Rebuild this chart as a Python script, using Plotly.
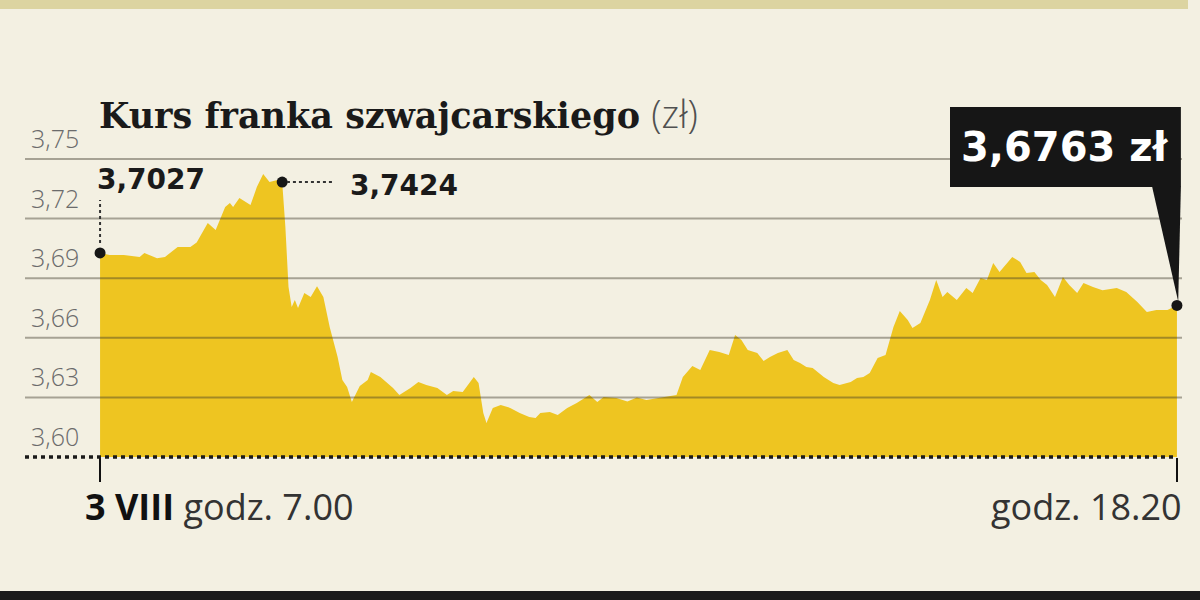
import plotly.graph_objects as go

# ---- data (minutes after 7:00 on 3 VIII, CHF/PLN rate) ----
minutes = [0, 6, 15, 25, 28, 36, 41, 49, 57, 61, 68, 73, 79, 82, 84, 88, 95, 99, 103, 107,
           112, 115, 117, 119, 121, 123, 125, 129, 133, 137, 141, 145, 150, 153, 156, 159,
           164, 169, 171, 177, 185, 189, 196, 201, 206, 213, 219, 223, 229, 236, 239, 242,
           244, 248, 253, 259, 265, 271, 275, 278, 284, 289, 295, 301, 309, 314, 318, 326,
           333, 339, 345, 352, 360, 364, 368, 374, 379, 385, 391, 397, 401, 405, 409, 415,
           419, 423, 428, 434, 438, 442, 446, 450, 457, 463, 467, 474, 478, 482, 486, 491,
           496, 501, 505, 510, 513, 518, 524, 528, 532, 535, 541, 547, 551, 556, 560, 564,
           568, 573, 576, 581, 585, 590, 594, 598, 603, 608, 612, 617, 621, 627, 633, 642,
           648, 655, 661, 667, 674, 680]
values = [3.7027, 3.7017, 3.7017, 3.7007, 3.7027, 3.7000, 3.7007, 3.7057, 3.7057, 3.7080,
          3.7178, 3.7143, 3.7258, 3.7278, 3.7258, 3.7304, 3.7268, 3.7359, 3.7424, 3.7384,
          3.7394, 3.7384, 3.7160, 3.6856, 3.6755, 3.6790, 3.6750, 3.6825, 3.6805, 3.6860,
          3.6805, 3.6654, 3.6503, 3.6388, 3.6352, 3.6277, 3.6357, 3.6388, 3.6428, 3.6403,
          3.6347, 3.6312, 3.6347, 3.6378, 3.6362, 3.6347, 3.6312, 3.6332, 3.6327, 3.6403,
          3.6372, 3.6221, 3.6171, 3.6247, 3.6262, 3.6247, 3.6221, 3.6201, 3.6196, 3.6221,
          3.6227, 3.6211, 3.6247, 3.6272, 3.6312, 3.6277, 3.6302, 3.6297, 3.6280, 3.6300,
          3.6287, 3.6297, 3.6307, 3.6312, 3.6403, 3.6458, 3.6438, 3.6539, 3.6528, 3.6513,
          3.6614, 3.6589, 3.6539, 3.6523, 3.6483, 3.6503, 3.6523, 3.6539, 3.6488, 3.6473,
          3.6453, 3.6448, 3.6403, 3.6372, 3.6362, 3.6378, 3.6398, 3.6403, 3.6423, 3.6498,
          3.6513, 3.6654, 3.6735, 3.6690, 3.6649, 3.6674, 3.6790, 3.6891, 3.6805, 3.6830,
          3.6790, 3.6851, 3.6825, 3.6901, 3.6891, 3.6977, 3.6931, 3.6977, 3.7007, 3.6982,
          3.6926, 3.6931, 3.6891, 3.6866, 3.6805, 3.6906, 3.6866, 3.6825, 3.6876, 3.6856,
          3.6840, 3.6851, 3.6830, 3.6780, 3.6730, 3.6740, 3.6740, 3.6763]
ytick_values = [3.60, 3.63, 3.66, 3.69, 3.72, 3.75]
title_text = "Kurs franka szwajcarskiego"
unit_text = "(zł)"
start_day = "3 VIII"
start_time = "godz. 7.00"
end_time = "godz. 18.20"
currency = "zł"
start_idx = 0
max_mark_idx = minutes.index(115)
end_idx = len(minutes) - 1

# ---- layout geometry ----
WIDTH, HEIGHT = 1200, 600
ML, MR, MT, MB = 25, 18, 101, 143
PW = WIDTH - ML - MR
PH = HEIGHT - MT - MB
X_RANGE = [-47.4, 683.2]
Y_RANGE = [3.60, 3.7792]

BG = "#F3F0E2"
YELLOW = "#EEC521"
GRID = "rgba(60,55,40,0.42)"
INK = "#161616"


def fmt(v):
    return f"{v:.4f}".replace(".", ",")


def px_x(px):
    return (px - ML) / PW


def px_y(py):
    return (HEIGHT - MB - py) / PH


def m_paper(m):
    return (m - X_RANGE[0]) / (X_RANGE[1] - X_RANGE[0])


fig = go.Figure()
fig.add_trace(go.Scatter(x=minutes, y=values, mode="lines", fill="tozeroy",
                         fillcolor=YELLOW, line=dict(width=0, color=YELLOW),
                         hoverinfo="skip", showlegend=False))
marks = [start_idx, max_mark_idx, end_idx]
fig.add_trace(go.Scatter(x=[minutes[i] for i in marks], y=[values[i] for i in marks],
                         mode="markers", marker=dict(size=11, color=INK),
                         cliponaxis=False, hoverinfo="skip", showlegend=False))

shapes = []
# top and bottom bands
shapes.append(dict(type="rect", xref="paper", yref="paper", x0=px_x(0), x1=px_x(1188),
                   y0=px_y(9), y1=px_y(0), fillcolor="#DCD4A1", line=dict(width=0), layer="below"))
shapes.append(dict(type="rect", xref="paper", yref="paper", x0=px_x(0), x1=px_x(1200),
                   y0=px_y(600), y1=px_y(591), fillcolor="#1B1B1B", line=dict(width=0), layer="below"))
# gridlines above the area
for v in ytick_values[1:]:
    shapes.append(dict(type="line", xref="paper", yref="y", x0=0, x1=1, y0=v, y1=v,
                       line=dict(color=GRID, width=2), layer="above"))
# dotted baseline
shapes.append(dict(type="line", xref="paper", yref="paper", x0=0, x1=m_paper(minutes[end_idx]),
                   y0=0, y1=0, line=dict(color="#1a1a1a", width=3.5, dash="4px,4px"), layer="above"))
# dotted connector from start point up to its label
shapes.append(dict(type="line", xref="x", yref="y", x0=minutes[start_idx], x1=minutes[start_idx],
                   y0=values[start_idx] + 0.0050, y1=3.7294,
                   line=dict(color="#333", width=2, dash="dot"), layer="above"))
# dotted connector from max mark to its label
shapes.append(dict(type="line", xref="x", yref="y", x0=minutes[max_mark_idx] + 3, x1=146.5,
                   y0=values[max_mark_idx], y1=values[max_mark_idx],
                   line=dict(color="#333", width=2, dash="dot"), layer="above"))
# callout box + pointer
box_bottom, box_top = 3.7359, 3.7762
box_left, box_right = 536.7, 682.5
shapes.append(dict(type="rect", xref="x", yref="y", x0=box_left, x1=box_right,
                   y0=box_bottom, y1=box_top, fillcolor=INK, line=dict(width=0), layer="above"))
shapes.append(dict(type="path", xref="x", yref="y",
                   path=f"M 664.3,{box_bottom + 0.0003} L {box_right},{box_bottom + 0.0003} "
                        f"L {minutes[end_idx] + 0.8},{values[end_idx] + 0.002} Z",
                   fillcolor=INK, line=dict(width=0), layer="above"))

annotations = []
# title
annotations.append(dict(
    xref="x", yref="y", x=0, y=3.7733, xanchor="left", yanchor="middle", xshift=-3,
    showarrow=False,
    text=(f"<b>{title_text}</b> <span style='font-family:Open Sans;font-weight:300;"
          f"font-size:38px;color:#505050'>{unit_text}</span>"),
    font=dict(family="DejaVu Serif", size=35, color="#1a1a1a")))
# y tick labels
for v in ytick_values:
    annotations.append(dict(xref="paper", yref="y", x=0, y=v, xanchor="left", yanchor="middle",
                            xshift=4, yshift=21, showarrow=False,
                            text=f"{v:.2f}".replace(".", ","),
                            font=dict(family="Open Sans", size=25, color="#6b6b6b", weight=300)))
# value labels
annotations.append(dict(xref="x", yref="y", x=minutes[start_idx], y=3.7395, xanchor="left",
                        yanchor="middle", xshift=-5, showarrow=False, text=fmt(values[start_idx]),
                        font=dict(family="DejaVu Sans", size=28, color="#1a1a1a", weight="bold")))
annotations.append(dict(xref="x", yref="y", x=156.6, y=3.7369, xanchor="left",
                        yanchor="middle", showarrow=False, text=fmt(max(values)),
                        font=dict(family="DejaVu Sans", size=28, color="#1a1a1a", weight="bold")))
# callout text
annotations.append(dict(xref="x", yref="y", x=(box_left + box_right) / 2,
                        y=(box_bottom + box_top) / 2, xanchor="center", yanchor="middle",
                        showarrow=False, text=f"{fmt(values[end_idx])} {currency}",
                        font=dict(family="DejaVu Sans", size=40, color="#FFFFFF", weight="bold")))
# x labels
annotations.append(dict(xref="x", yref="paper", x=minutes[start_idx], y=0, xanchor="left",
                        yanchor="middle", xshift=-17, yshift=-49, showarrow=False,
                        text=f"<span style='color:#111'><b>{start_day}</b></span> {start_time}",
                        font=dict(family="Open Sans", size=36, color="#333333")))
annotations.append(dict(xref="x", yref="paper", x=minutes[end_idx], y=0, xanchor="right",
                        yanchor="middle", xshift=7, yshift=-49, showarrow=False,
                        text=end_time,
                        font=dict(family="Open Sans", size=36, color="#333333")))

fig.update_layout(
    width=WIDTH, height=HEIGHT,
    margin=dict(l=ML, r=MR, t=MT, b=MB, pad=0),
    paper_bgcolor=BG, plot_bgcolor=BG,
    showlegend=False,
    shapes=shapes, annotations=annotations,
    xaxis=dict(range=X_RANGE, showgrid=False, zeroline=False, showline=False,
               tickvals=[minutes[start_idx], minutes[end_idx]], ticks="outside",
               ticklen=24, tickwidth=2, tickcolor="#111", showticklabels=False, fixedrange=True),
    yaxis=dict(range=Y_RANGE, showgrid=False, zeroline=False, showline=False,
               showticklabels=False, ticks="", fixedrange=True),
)

fig.write_html("out.html", config={"displayModeBar": False},
               post_script="document.body.style.margin='0px';document.body.style.overflow='hidden';")
